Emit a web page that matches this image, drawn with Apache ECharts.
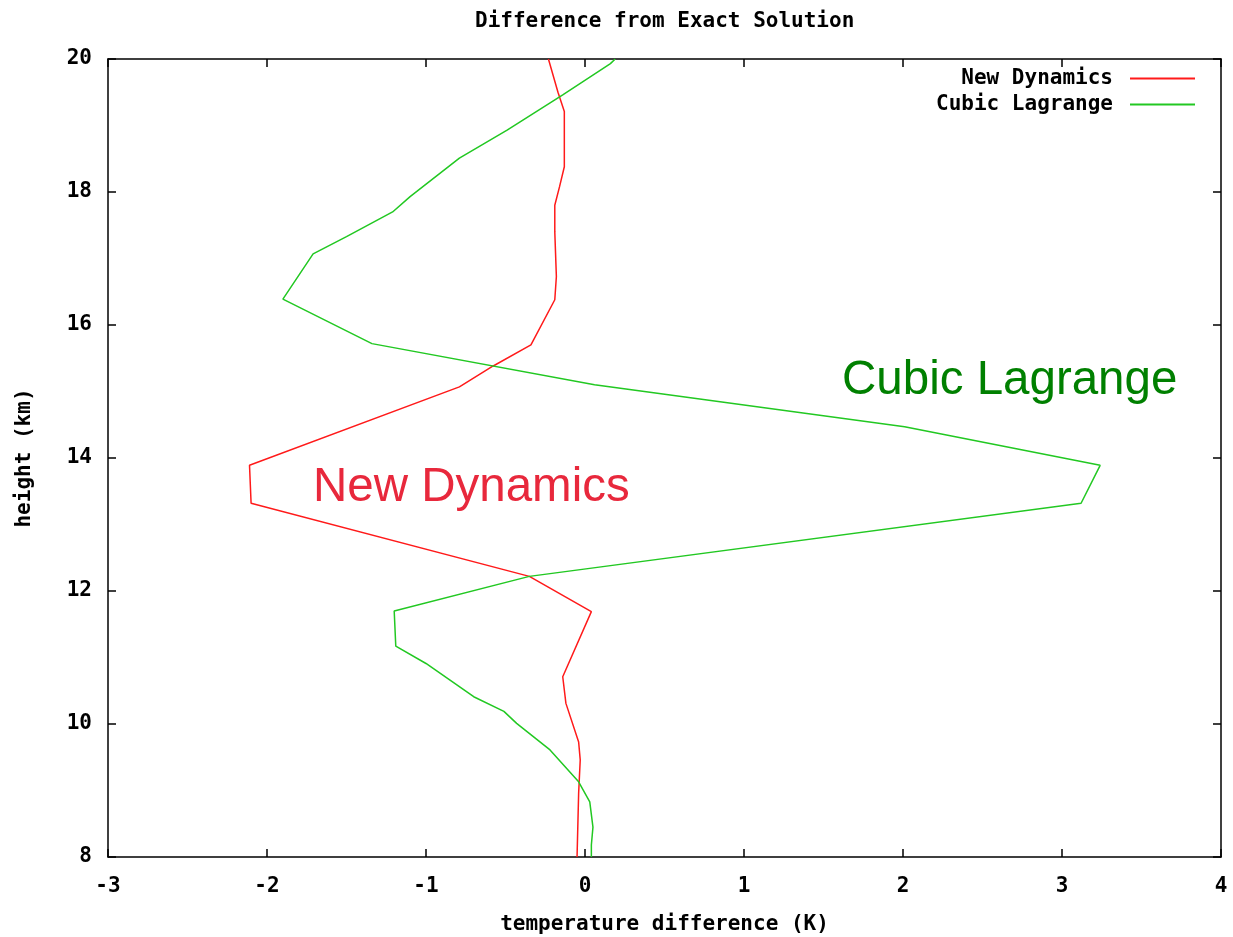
<!DOCTYPE html>
<html>
<head>
<meta charset="utf-8">
<script src="https://cdn.jsdelivr.net/npm/echarts@6/dist/echarts.min.js"></script>
<style>html,body{margin:0;padding:0;background:#fff}#c{width:1233px;height:937px}</style>
</head>
<body>
<div id="c"></div>
<script>
// New Dynamics: temperature difference (K) and height (km)
const ndTemp   = [-0.23, -0.17, -0.13, -0.13, -0.16, -0.19, -0.19, -0.18, -0.19, -0.34, -0.58, -0.79, -2.11, -2.10, -0.35, 0.04, -0.14, -0.12, -0.04, -0.03, -0.04, -0.05];
const ndHeight = [20.0, 19.5, 19.21, 18.38, 18.08, 17.8, 17.4, 16.73, 16.38, 15.70, 15.38, 15.07, 13.89, 13.32, 12.22, 11.69, 10.71, 10.31, 9.73, 9.46, 8.96, 8.0];
// Cubic Lagrange
const clTemp   = [0.19, 0.16, -0.14, -0.49, -0.79, -1.10, -1.21, -1.50, -1.71, -1.90, -1.34, 0.06, 2.01, 3.24, 3.12, -0.35, -1.20, -1.19, -1.00, -0.70, -0.51, -0.43, -0.22, -0.04, 0.03, 0.05, 0.04, 0.04];
const clHeight = [20.0, 19.93, 19.46, 18.93, 18.51, 17.93, 17.70, 17.33, 17.07, 16.39, 15.72, 15.10, 14.47, 13.89, 13.32, 12.22, 11.70, 11.17, 10.91, 10.41, 10.19, 10.01, 9.61, 9.13, 8.83, 8.45, 8.18, 8.0];
const seriesNames = ['New Dynamics', 'Cubic Lagrange'];
const xTicks = [-3, -2, -1, 0, 1, 2, 3, 4];
const yTicks = [8, 10, 12, 14, 16, 18, 20];

const font = '"DejaVu Sans Mono", monospace';
const pair = (xs, ys) => xs.map((x, i) => [x, ys[i]]);

const chart = echarts.init(document.getElementById('c'), null, {renderer: 'canvas'});
const axisLineStyle = {color: '#000', width: 1.5};
const tickStyle = {show: true, inside: true, length: 8, lineStyle: {color: '#000', width: 1.5}};
const txt = {fontFamily: font, fontWeight: 'bold', fontSize: 21, color: '#000'};
chart.setOption({
  animation: false,
  backgroundColor: '#fff',
  title: {
    text: 'Difference from Exact Solution',
    left: 470, top: 6,
    textStyle: txt
  },
  grid: {left: 108, right: 12, top: 59, bottom: 80, containLabel: false, outerBoundsMode: 'none'},
  legend: {
    orient: 'vertical', right: 33, top: 63, align: 'right',
    icon: 'rect', itemWidth: 65, itemHeight: 2, itemGap: 5,
    textStyle: Object.assign({}, txt, {padding: [0, 12, 0, 0]}),
    data: seriesNames
  },
  xAxis: [{
    type: 'value', min: xTicks[0], max: xTicks[xTicks.length - 1], interval: 1,
    position: 'bottom',
    name: 'temperature difference (K)', nameLocation: 'middle', nameGap: 57,
    nameTextStyle: txt,
    axisLine: {show: true, onZero: false, lineStyle: axisLineStyle},
    axisTick: tickStyle,
    axisLabel: Object.assign({}, txt, {margin: 19}),
    splitLine: {show: false}
  }, {
    type: 'value', min: xTicks[0], max: xTicks[xTicks.length - 1], interval: 1,
    position: 'top',
    axisLine: {show: true, onZero: false, lineStyle: axisLineStyle},
    axisTick: tickStyle,
    axisLabel: {show: false},
    splitLine: {show: false}
  }],
  yAxis: [{
    type: 'value', min: yTicks[0], max: yTicks[yTicks.length - 1], interval: 2,
    position: 'left',
    name: 'height (km)', nameLocation: 'middle', nameGap: 73,
    nameTextStyle: txt,
    axisLine: {show: true, onZero: false, lineStyle: axisLineStyle},
    axisTick: tickStyle,
    axisLabel: Object.assign({}, txt, {margin: 16}),
    splitLine: {show: false}
  }, {
    type: 'value', min: yTicks[0], max: yTicks[yTicks.length - 1], interval: 2,
    position: 'right',
    axisLine: {show: true, onZero: false, lineStyle: axisLineStyle},
    axisTick: tickStyle,
    axisLabel: {show: false},
    splitLine: {show: false}
  }],
  series: [{
    name: seriesNames[0], type: 'line', symbol: 'none', showSymbol: false,
    xAxisIndex: 0, yAxisIndex: 0,
    color: '#ff1a1a',
    lineStyle: {color: '#ff1a1a', width: 1.5},
    data: pair(ndTemp, ndHeight)
  }, {
    name: seriesNames[1], type: 'line', symbol: 'none', showSymbol: false,
    xAxisIndex: 0, yAxisIndex: 0,
    color: '#22c822',
    lineStyle: {color: '#22c822', width: 1.5},
    data: pair(clTemp, clHeight)
  }],
  graphic: [{
    type: 'text', left: 313, top: 464,
    style: {text: 'New Dynamics', fontFamily: '"Liberation Sans", Arial, sans-serif', fontSize: 47.5, fill: '#e8283c'}
  }, {
    type: 'text', left: 842, top: 357,
    style: {text: 'Cubic Lagrange', fontFamily: '"Liberation Sans", Arial, sans-serif', fontSize: 47.5, fill: '#008000'}
  }]
});
</script>
</body>
</html>
